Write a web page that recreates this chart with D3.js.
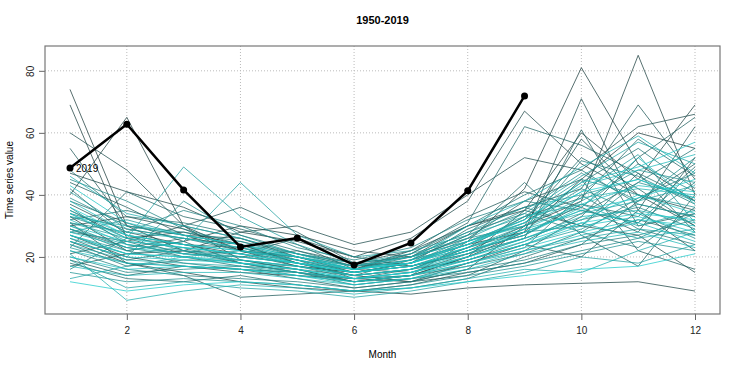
<!DOCTYPE html>
<html>
<head>
<meta charset="utf-8">
<script src="https://cdn.jsdelivr.net/npm/d3@7"></script>
<style>
  body { margin: 0; background: #fff; }
  text { font-family: "Liberation Sans", Arial, sans-serif; }
</style>
</head>
<body>
<div id="chart"></div>
<script>
// Months on the x axis
let months = [1, 2, 3, 4, 5, 6, 7, 8, 9, 10, 11, 12];
let xTicks = [2, 4, 6, 8, 10, 12];
let yTicks = [20, 40, 60, 80];

// Years 1950-2018 (full years), one row of monthly values each
let years = d3.range(1950, 2019);
let values = [
  [74, 30, 22, 18, 15, 12, 14, 20, 28, 45, 60, 55],
  [40, 65, 30, 22, 20, 15, 18, 25, 42, 81, 50, 38],
  [69, 26, 28, 24, 18, 14, 12, 16, 30, 38, 85, 40],
  [33, 22, 25, 30, 27, 22, 20, 30, 35, 60, 45, 69],
  [25, 18, 15, 12, 10, 9, 8, 10, 11, 11.5, 12, 9],
  [47, 41, 36, 28, 25, 20, 26, 38, 67, 50, 40, 30],
  [30, 33, 29, 22, 17, 15, 18, 24, 28, 71, 35, 22],
  [17, 21, 22, 28, 30, 24, 28, 40, 52, 48, 62, 66],
  [60, 48, 30, 19, 16, 12, 14, 20, 35, 30, 27, 15],
  [37, 28, 24, 21, 26, 20, 17, 22, 30, 58, 40, 35],
  [27, 20, 17, 15, 14, 13, 12, 18, 24, 20, 35, 62],
  [21, 25, 30, 36, 28, 18, 22, 33, 41, 36, 28, 52],
  [55, 30, 27, 26, 20, 16, 22, 30, 36, 42, 69, 45],
  [31, 18, 14, 7, 8, 9, 11, 15, 18, 24, 38, 50],
  [44, 36, 27, 22, 19, 16, 15, 21, 26, 61, 30, 34],
  [19, 14, 17, 16, 13, 10, 12, 14, 22, 33, 52, 65],
  [35, 26, 21, 20, 22, 18, 20, 26, 38, 45, 22, 16],
  [23, 41, 33, 29, 24, 16, 21, 31, 62, 56, 47, 28],
  [29, 23, 26, 24, 18, 14, 19, 27, 44, 27, 17, 40],
  [38, 31, 25, 18, 15, 13, 16, 23, 33, 39, 58, 46],
  [26, 19, 22, 21, 17, 15, 17, 22, 27, 37, 33, 49],
  [42, 27, 24, 23, 19, 13, 14, 25, 32, 52, 42, 30],
  [32, 35, 30, 26, 21, 17, 18, 29, 36, 30, 47, 38],
  [18, 13, 12, 14, 11, 9, 10, 13, 20, 26, 32, 27],
  [28, 25, 20, 17, 16, 14, 16, 19, 25, 34, 44, 55],
  [48, 33, 31, 27, 22, 17, 21, 30, 40, 48, 37, 33],
  [24, 17, 19, 19, 16, 12, 14, 17, 21, 28, 23, 36],
  [34, 29, 26, 22, 20, 17, 19, 24, 31, 44, 55, 42],
  [29, 22, 18, 16, 15, 11, 13, 18, 23, 40, 29, 24],
  [16, 26, 24, 20, 18, 16, 20, 28, 34, 28, 39, 47],
  [36, 24, 21, 25, 21, 18, 17, 21, 29, 51, 46, 37],
  [22, 16, 14, 13, 12, 10, 12, 16, 19, 24, 27, 32],
  [31, 28, 35, 30, 23, 19, 23, 32, 38, 35, 31, 44],
  [45, 38, 29, 24, 19, 15, 18, 26, 30, 36, 50, 41],
  [27, 21, 23, 18, 17, 13, 15, 20, 26, 32, 36, 29],
  [20, 15, 16, 17, 14, 12, 13, 15, 18, 22, 26, 34],
  [39, 30, 28, 25, 20, 16, 19, 27, 35, 47, 38, 52],
  [30, 23, 20, 22, 18, 15, 17, 23, 28, 30, 44, 39],
  [25, 20, 38, 27, 21, 17, 20, 25, 31, 42, 34, 26],
  [33, 27, 22, 19, 17, 14, 16, 22, 27, 38, 48, 44],
  [15, 12, 13, 12, 11, 9, 11, 14, 17, 21, 25, 22],
  [28, 32, 27, 24, 20, 16, 18, 24, 33, 45, 40, 36],
  [34, 25, 23, 21, 19, 15, 17, 21, 28, 35, 31, 48],
  [23, 18, 17, 16, 15, 13, 14, 19, 24, 29, 37, 33],
  [41, 29, 26, 23, 18, 14, 16, 23, 30, 41, 53, 31],
  [31, 26, 49, 33, 24, 18, 20, 28, 36, 40, 45, 38],
  [27, 22, 25, 44, 27, 20, 22, 27, 33, 37, 30, 35],
  [19, 10, 12, 10, 9, 7, 9, 12, 15, 20, 18, 24],
  [33, 30, 27, 24, 21, 18, 21, 26, 34, 46, 57, 50],
  [13, 17, 20, 18, 15, 12, 14, 18, 22, 26, 29, 27],
  [29, 24, 22, 20, 18, 16, 18, 23, 29, 34, 38, 43],
  [24, 19, 18, 17, 15, 13, 15, 19, 24, 31, 26, 29],
  [46, 34, 30, 26, 21, 16, 19, 30, 38, 49, 59, 47],
  [21, 6, 9, 11, 10, 8, 10, 13, 16, 15, 22, 28],
  [35, 27, 24, 22, 20, 17, 20, 25, 30, 39, 42, 40],
  [26, 21, 20, 19, 17, 14, 16, 20, 26, 33, 35, 31],
  [32, 24, 21, 20, 18, 15, 17, 22, 27, 36, 52, 37],
  [17, 14, 15, 15, 13, 11, 13, 16, 21, 25, 28, 23],
  [38, 28, 26, 23, 20, 16, 19, 24, 32, 43, 48, 53],
  [28, 23, 21, 19, 17, 14, 16, 21, 26, 32, 40, 34],
  [22, 18, 17, 16, 14, 11, 13, 17, 22, 27, 31, 25],
  [30, 25, 23, 21, 18, 15, 18, 23, 29, 37, 43, 41],
  [25, 20, 19, 18, 16, 13, 15, 19, 24, 30, 33, 28],
  [43, 31, 27, 24, 20, 16, 18, 25, 32, 44, 49, 57],
  [20, 16, 17, 16, 14, 12, 14, 18, 23, 28, 32, 30],
  [34, 26, 23, 21, 18, 15, 17, 22, 28, 35, 39, 45],
  [12, 9, 11, 12, 11, 9, 10, 12, 14, 16, 17, 21],
  [27, 21, 20, 18, 16, 13, 15, 20, 25, 31, 34, 32],
  [36, 27, 24, 22, 19, 16, 18, 24, 31, 41, 45, 39]
];

// Latest (partial) year
let lastYear = 2019;
let lastValues = [48.7, 62.8, 41.6, 23.2, 26.1, 17.4, 24.5, 41.3, 71.9];

let svgWidth = 744;
let svgHeight = 372;
let margin = { top: 46, right: 24, bottom: 58, left: 45 };
let width = svgWidth - margin.left - margin.right;
let height = svgHeight - margin.top - margin.bottom;

let svg = d3.select("#chart")
  .append("svg")
  .attr("width", svgWidth)
  .attr("height", svgHeight);

let g = svg.append("g")
  .attr("transform", `translate(${margin.left}, ${margin.top})`);

// R style 4% padding on both axes
let xScale = d3.scaleLinear()
  .domain([1 - 0.44, 12 + 0.44])
  .range([0, width]);

let yScale = d3.scaleLinear()
  .domain([4.8 - 3.2, 84.8 + 3.2])
  .range([height, 0]);

// grid
g.selectAll(".vgrid")
  .data(xTicks)
  .enter()
  .append("line")
  .attr("x1", d => xScale(d))
  .attr("x2", d => xScale(d))
  .attr("y1", 0)
  .attr("y2", height)
  .attr("stroke", "#bbb")
  .attr("stroke-dasharray", "1,2");

g.selectAll(".hgrid")
  .data(yTicks)
  .enter()
  .append("line")
  .attr("x1", 0)
  .attr("x2", width)
  .attr("y1", d => yScale(d))
  .attr("y2", d => yScale(d))
  .attr("stroke", "#bbb")
  .attr("stroke-dasharray", "1,2");

// colour ramp from dark slate to turquoise
let colour = d3.scaleLinear()
  .domain([0, years.length - 1])
  .range(["#1f3d3d", "#1fcfcf"])
  .interpolate(d3.interpolateRgb);

let line = d3.line()
  .x((d, i) => xScale(months[i]))
  .y(d => yScale(d));

g.selectAll(".yearLine")
  .data(values)
  .enter()
  .append("path")
  .attr("class", "yearLine")
  .attr("d", line)
  .attr("fill", "none")
  .attr("stroke", (d, i) => colour(i))
  .attr("stroke-opacity", 0.75)
  .attr("stroke-width", 1);

// 2019 highlighted
g.append("path")
  .datum(lastValues)
  .attr("d", line)
  .attr("fill", "none")
  .attr("stroke", "#000")
  .attr("stroke-width", 2.5);

g.selectAll(".lastPt")
  .data(lastValues)
  .enter()
  .append("circle")
  .attr("cx", (d, i) => xScale(months[i]))
  .attr("cy", d => yScale(d))
  .attr("r", 3.5)
  .attr("fill", "#000");

g.append("text")
  .attr("x", xScale(1) + 6)
  .attr("y", yScale(lastValues[0]) + 4)
  .attr("font-size", "10px")
  .attr("fill", "#000")
  .text(lastYear);

// axes
let xAxis = d3.axisBottom(xScale).tickValues(xTicks).tickSize(6).tickPadding(7);
let yAxis = d3.axisLeft(yScale).tickValues(yTicks).tickSize(6).tickPadding(5);

let xg = g.append("g")
  .attr("transform", `translate(0, ${height})`)
  .call(xAxis);
xg.select(".domain").remove();
xg.selectAll("line").attr("stroke", "#666");
xg.selectAll("text").attr("font-size", "10px").attr("fill", "#222")
  .style("font-family", "Liberation Sans, Arial, sans-serif");

let yg = g.append("g").call(yAxis);
yg.select(".domain").remove();
yg.selectAll("line").attr("stroke", "#666");
yg.selectAll("text")
  .attr("font-size", "10px")
  .attr("fill", "#222")
  .style("font-family", "Liberation Sans, Arial, sans-serif")
  .attr("text-anchor", "middle")
  .attr("x", 0)
  .attr("y", 0)
  .attr("dy", 0)
  .attr("transform", "translate(-11, 0) rotate(-90)");

// frame
g.append("rect")
  .attr("width", width)
  .attr("height", height)
  .attr("fill", "none")
  .attr("stroke", "#777")
  .attr("stroke-width", 1.2);

// titles
svg.append("text")
  .attr("x", margin.left + width / 2)
  .attr("y", 24)
  .attr("text-anchor", "middle")
  .attr("font-size", "11px")
  .attr("font-weight", "bold")
  .text("1950-2019");

svg.append("text")
  .attr("x", margin.left + width / 2)
  .attr("y", 358)
  .attr("text-anchor", "middle")
  .attr("font-size", "10px")
  .text("Month");

svg.append("text")
  .attr("transform", `translate(13, ${margin.top + height / 2}) rotate(-90)`)
  .attr("text-anchor", "middle")
  .attr("font-size", "10px")
  .text("Time series value");
</script>
</body>
</html>
